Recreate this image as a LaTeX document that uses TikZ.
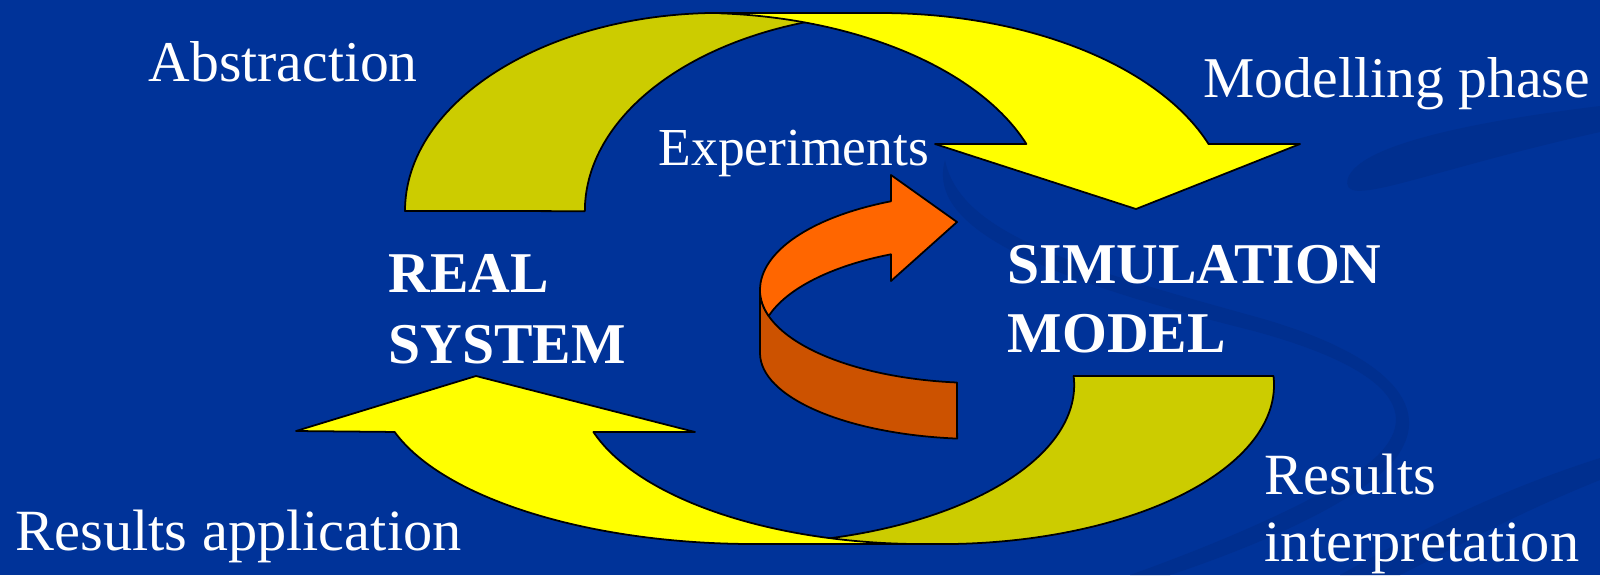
\documentclass[tikz,border=0pt]{standalone}
\usepackage{fontspec}
\setmainfont{Liberation Serif}
\usepackage{tikz}
\usetikzlibrary{positioning}

\definecolor{slideblue}{HTML}{003399}
\definecolor{swirlblue}{HTML}{002F8F}
\definecolor{arrowyellow}{HTML}{FFFF00}
\definecolor{arrowolive}{HTML}{CCCC00}
\definecolor{expfront}{HTML}{FF6600}
\definecolor{expback}{HTML}{CC5200}

\tikzset{
  band/.style={draw=black, line width=0.5pt, line join=round},
  swirl/.style={fill=swirlblue},
  lbl/.style={text=white, inner sep=0pt, anchor=base west, font=\fontsize{16.4}{19}\selectfont},
  sysname/.style={lbl, font=\fontsize{16.4}{19}\selectfont\bfseries},
}

\begin{document}
\begin{tikzpicture}[x=0.01cm, y=-0.01cm]
  \fill[slideblue] (0,0) rectangle (1600,575);
  \useasboundingbox (0,0) rectangle (1600,575);

  % background swirls
  \fill[swirl] (1600,106) .. controls (1470,122) and (1360,145) .. (1348,178)
    .. controls (1338,212) and (1420,172) .. (1600,132) -- cycle;
  \fill[swirl] (945,160) .. controls (925,230) and (1050,280) .. (1250,330)
    .. controls (1400,370) and (1430,420) .. (1360,470)
    .. controls (1300,510) and (1200,550) .. (1130,575) -- (1170,575)
    .. controls (1260,545) and (1350,505) .. (1390,465)
    .. controls (1440,410) and (1390,355) .. (1260,318)
    .. controls (1080,268) and (960,235) .. (945,160) -- cycle;
  \fill[swirl] (1340,575) .. controls (1420,530) and (1500,490) .. (1600,458)
    -- (1600,480) .. controls (1520,512) and (1460,545) .. (1400,575) -- cycle;

  % abstraction / modelling arrow
  \filldraw[band, fill=arrowolive] (405,211)
    arc[start angle=180, end angle=90, x radius=3.15cm, y radius=1.98cm]
    -- (810,13) -- (810,21.3)
    arc[start angle=106.6, end angle=180, x radius=3.15cm, y radius=1.98cm] -- cycle;
  \filldraw[band, fill=arrowyellow] (720,13) -- (880,13)
    arc[start angle=90, end angle=19.77, x radius=3.49cm, y radius=1.98cm]
    -- (1300,144) -- (1136,209) -- (935,144) -- (1026.4,144)
    arc[start angle=19.77, end angle=86.4, x radius=3.49cm, y radius=1.98cm] -- cycle;

  % interpretation / application arrow
  \filldraw[band, fill=arrowolive] (1073.5,376) -- (1273.5,376)
    arc[start angle=3.24, end angle=-90, x radius=3.33cm, y radius=1.59cm]
    -- (823,544) -- (823,539.1)
    arc[start angle=-75.75, end angle=3.24, x radius=3.33cm, y radius=1.59cm] -- cycle;
  \filldraw[band, fill=arrowyellow] (476,376) -- (695,432) -- (593.4,432)
    arc[start angle=197.2, end angle=270, x radius=3.45cm, y radius=1.59cm]
    -- (754,544)
    arc[start angle=270, end angle=197.2, x radius=3.76cm, y radius=1.59cm]
    -- (296,431) -- cycle;

  % experiments arrow
  \filldraw[band, fill=expback] (760,290) -- (760,353)
    arc[start angle=180, end angle=264, x radius=2.2cm, y radius=0.86cm]
    -- (957,382.5)
    arc[start angle=264, end angle=180, x radius=2.2cm, y radius=0.93cm] -- cycle;
  \filldraw[band, fill=expfront] (760,290)
    arc[start angle=180, end angle=113.9, x radius=2.2cm, y radius=0.97cm]
    -- (891,175) -- (957,222) -- (891,281) -- (890.9,254.3)
    arc[start angle=113.9, end angle=163.8, x radius=2.2cm, y radius=0.97cm]
    arc[start angle=196.2, end angle=180, x radius=2.2cm, y radius=0.93cm] -- cycle;

  % texts
  \node[lbl] (abstraction) at (148,81) {Abstraction};
  \node[lbl] (modelling) at (1203,97) {Modelling phase};
  \node[lbl, font=\fontsize{15.2}{18}\selectfont] (experiments) at (658,165) {Experiments};
  \node[sysname] (real) at (388,292) {REAL};
  \node[sysname] (system) at (388,363) {SYSTEM};
  \node[sysname] (simulation) at (1007,283) {SIMULATION};
  \node[sysname] (model) at (1007,352) {MODEL};
  \node[lbl, font=\fontsize{16.6}{19}\selectfont] (application) at (15,550) {Results application};
  \node[lbl, font=\fontsize{16.6}{19}\selectfont] (results) at (1264,494) {Results};
  \node[lbl, font=\fontsize{16.6}{19}\selectfont] (interpretation) at (1264,561) {interpretation};
\end{tikzpicture}
\end{document}
